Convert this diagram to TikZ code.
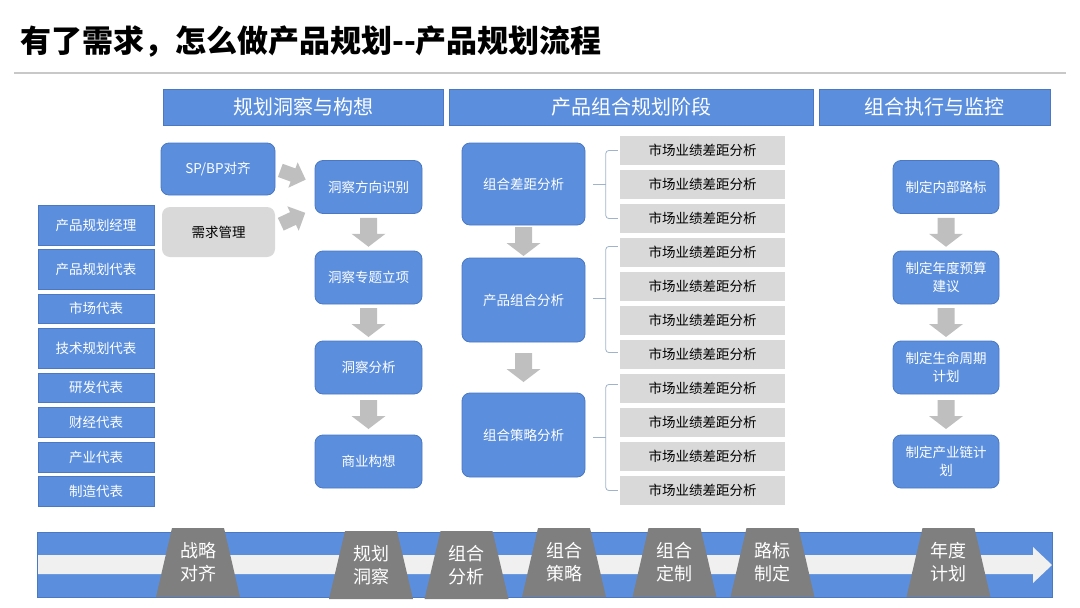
\documentclass[tikz,border=0pt]{standalone}
\usepackage{fontspec}
\setmainfont{Noto Sans CJK SC}
\usetikzlibrary{calc}
\definecolor{mblue}{HTML}{5B8FDE}
\definecolor{mbord}{HTML}{4A78C2}
\definecolor{lgray}{HTML}{D9D9D9}
\definecolor{agray}{HTML}{BFBFBF}
\definecolor{tgray}{HTML}{7F7F7F}
\definecolor{stripe}{HTML}{F0F0F0}
\definecolor{brc}{HTML}{9FB3CB}
\definecolor{rule}{HTML}{C8C8C8}
\newcommand{\trapz}[5]{%
  \fill[tgray] (#2-26,#3) -- (#2+26,#3) -- (#2+42,#4) -- (#2-42,#4) -- cycle;
  \node[traptext] (#1) at (#2,{(#3+#4)/2}) {#5};}
\begin{document}
\begin{tikzpicture}[x=1pt,y=-1pt,
  box/.style={draw=mbord, line width=0.8pt, fill=mblue, text=white,
    font=\fontsize{13.5}{18}\selectfont, inner sep=0pt, align=center},
  hdr/.style={box, font=\fontsize{20}{24}\selectfont, minimum height=36},
  lbox/.style={box, minimum width=116},
  rbox/.style={box, rounded corners=8},
  ibox/.style={rbox, minimum width=107, minimum height=53},
  gbox/.style={fill=lgray, text=black, font=\fontsize{13.5}{17}\selectfont,
    minimum width=165, minimum height=29, inner sep=0pt},
  traptext/.style={text=white, font=\fontsize{18}{23}\selectfont, align=center, inner sep=0pt},
  brace/.style={draw=brc, line width=0.8pt, rounded corners=3},
  pics/barrow/.style={code={\fill[agray] (-14.5,-8.5) -- (1.5,-8.5) -- (1.5,-17) -- (14.5,0) -- (1.5,17) -- (1.5,8.5) -- (-14.5,8.5) -- cycle;}},
  pics/darrow/.style={code={\fill[agray] (-13.5,-7) -- (0,-7) -- (0,-13.5) -- (13.5,0) -- (0,13.5) -- (0,7) -- (-13.5,7) -- cycle;}}
]
\useasboundingbox (0,0) rectangle (1080,608);

% title
\node[anchor=west, font=\fontsize{31}{36}\selectfont\bfseries, inner sep=0pt] (title) at (20,42) {有了需求，怎么做产品规划-{}-产品规划流程};
\draw[rule, line width=1.2pt] (14,73) -- (1066,73);

% headers
\node[hdr, minimum width=280] (h1) at (303,107) {规划洞察与构想};
\node[hdr, minimum width=364] (h2) at (631,107) {产品组合规划阶段};
\node[hdr, minimum width=231] (h3) at (934.5,107) {组合执行与监控};

% left roles
\node[lbox, minimum height=40] (l1) at (96,225) {产品规划经理};
\node[lbox, minimum height=40] (l2) at (96,269) {产品规划代表};
\node[lbox, minimum height=29] (l3) at (96,308.5) {市场代表};
\node[lbox, minimum height=40] (l4) at (96,348) {技术规划代表};
\node[lbox, minimum height=29] (l5) at (96,387.5) {研发代表};
\node[lbox, minimum height=30] (l6) at (96,422) {财经代表};
\node[lbox, minimum height=30] (l7) at (96,457) {产业代表};
\node[lbox, minimum height=30] (l8) at (96,491) {制造代表};

% inputs
\node[rbox, minimum width=114, minimum height=52] (sp) at (218,169) {SP/BP对齐};
\node[rbox, fill=lgray, draw=none, text=black, minimum width=113, minimum height=50] (dm) at (218.5,232) {需求管理};

% insight column
\node[ibox] (i1) at (368.5,187) {洞察方向识别};
\node[ibox] (i2) at (368.5,277.5) {洞察专题立项};
\node[ibox] (i3) at (368.5,367.5) {洞察分析};
\node[ibox] (i4) at (368.5,461.5) {商业构想};

\pic[rotate=-20] at ($(sp.east)!0.5!(i1.west)+(-2,-3)$) {darrow};
\pic[rotate=25] at ($(dm.east)!0.5!(i1.west)+(-2,9)$) {darrow};
\pic[rotate=-90] at ($(i1.south)!0.5!(i2.north)$) {barrow};
\pic[rotate=-90] at ($(i2.south)!0.5!(i3.north)$) {barrow};
\pic[rotate=-90] at ($(i3.south)!0.5!(i4.north)$) {barrow};

% portfolio column
\node[rbox, minimum width=123, minimum height=82] (g1) at (523.5,184) {组合差距分析};
\node[rbox, minimum width=123, minimum height=84] (g2) at (523.5,300) {产品组合分析};
\node[rbox, minimum width=123, minimum height=84] (g3) at (523.5,435) {组合策略分析};
\pic[rotate=-90] at ($(g1.south)!0.5!(g2.north)$) {barrow};
\pic[rotate=-90] at ($(g2.south)!0.5!(g3.north)$) {barrow};

\foreach \k in {1,...,11} {
  \node[gbox] (b\k) at (702.5,{150.5+34*(\k-1)}) {市场业绩差距分析};
}

% braces
\draw[brace] ($(b1.west)+(-2,0)$) -- ($(b1.west)+(-14,0)$) -- ($(b3.west)+(-14,0)$) -- ($(b3.west)+(-2,0)$);
\draw[brace] ($(g1.east)+(8,0)$) -- ($(g1.east)+(21,0)$);
\draw[brace] ($(b4.west)+(-2,-6)$) -- ($(b4.west)+(-14,-6)$) -- ($(b7.west)+(-14,-2)$) -- ($(b7.west)+(-2,-2)$);
\draw[brace] ($(g2.east)+(8,-2)$) -- ($(g2.east)+(21,-2)$);
\draw[brace] ($(b8.west)+(-2,-4)$) -- ($(b8.west)+(-14,-4)$) -- ($(b11.west)+(-14,0)$) -- ($(b11.west)+(-2,0)$);
\draw[brace] ($(g3.east)+(8,2)$) -- ($(g3.east)+(21,2)$);

% execution column
\node[ibox, minimum width=106] (r1) at (946,187) {制定内部路标};
\node[ibox, minimum width=106] (r2) at (946,277.5) {制定年度预算\\建议};
\node[ibox, minimum width=106] (r3) at (946,367.5) {制定生命周期\\计划};
\node[ibox, minimum width=106] (r4) at (946,461.5) {制定产业链计\\划};
\pic[rotate=-90] at ($(r1.south)!0.5!(r2.north)$) {barrow};
\pic[rotate=-90] at ($(r2.south)!0.5!(r3.north)$) {barrow};
\pic[rotate=-90] at ($(r3.south)!0.5!(r4.north)$) {barrow};

% bottom timeline band
\fill[mblue] (37,532) rectangle (1052,597);
\fill[stripe] (37,555) -- (1033,555) -- (1033,547) -- (1052,565) -- (1033,583) -- (1033,574) -- (37,574) -- cycle;
\draw[mbord, line width=0.8pt] (37,532) rectangle (1052,597);

\trapz{t1}{198}{528}{597}{战略\\对齐}
\trapz{t2}{371}{531}{599}{规划\\洞察}
\trapz{t3}{466.5}{531}{599}{组合\\分析}
\trapz{t4}{564}{528}{597}{组合\\策略}
\trapz{t5}{674.5}{528}{597}{组合\\定制}
\trapz{t6}{772.5}{528}{597}{路标\\制定}
\trapz{t7}{948.5}{528}{597}{年度\\计划}
\end{tikzpicture}
\end{document}
